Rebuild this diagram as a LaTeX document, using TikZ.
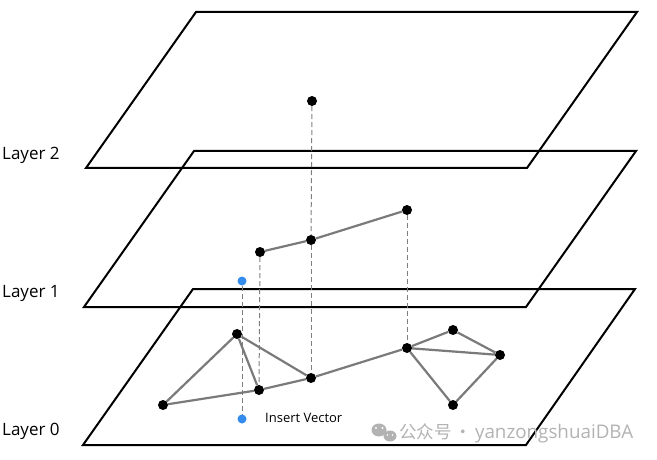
\documentclass[tikz,border=0pt]{standalone}
\usepackage{fontspec}
\setmainfont{Open Sans}
\newfontfamily\cjk{Noto Sans CJK SC}
\usetikzlibrary{backgrounds}
\begin{document}
\begin{tikzpicture}[x=1pt,y=-1pt,
  plane/.style={draw=black,line width=2pt,line join=miter},
  vtx/.style={circle,fill=black,inner sep=0pt,minimum size=10pt},
  bluevtx/.style={circle,fill=bluedot,inner sep=0pt,minimum size=9pt},
  edge/.style={draw=black!52,line width=2.2pt},
  proj/.style={draw=gray,line width=1pt,dash pattern=on 5pt off 3pt},
  lbl/.style={font=\fontsize{17}{19}\selectfont,anchor=west,inner sep=0pt},
  wm/.style={text=black!30,inner sep=0pt,anchor=west}]
\definecolor{bluedot}{RGB}{52,140,236}
\useasboundingbox (0,0) rectangle (657,460);
% labels
\node[lbl] (l2) at (2,155) {Layer 2};
\node[lbl] (l1) at (2,293) {Layer 1};
\node[lbl] (l0) at (2,431) {Layer 0};
% nodes
\node[vtx] (top) at (312,101) {};
\node[vtx] (a) at (260,252) {};
\node[vtx] (b) at (311,240) {};
\node[vtx] (c) at (407,210) {};
\node[vtx] (p) at (237,334) {};
\node[vtx] (q) at (259,390) {};
\node[vtx] (r) at (311,378) {};
\node[vtx] (s) at (163,405) {};
\node[vtx] (t) at (407,348) {};
\node[vtx] (u) at (453,330) {};
\node[vtx] (v) at (500,355) {};
\node[vtx] (w) at (453,405) {};
\node[bluevtx] (i1) at (242,281) {};
\node[bluevtx] (i0) at (242,419) {};
\node[anchor=west,inner sep=0pt,font=\fontsize{13}{15}\selectfont] (iv) at (265,418) {Insert Vector};
\begin{pgfonlayer}{background}
% planes
\draw[plane] (86,168) -- (196,12) -- (637,12) -- (527,168) -- cycle;
\draw[plane] (84,307) -- (194,151) -- (636,151) -- (526,307) -- cycle;
\draw[plane] (83,445) -- (193,289) -- (635,289) -- (526,445) -- cycle;
% projections
\draw[proj] (top) -- (b);
\draw[proj] (b) -- (r);
\draw[proj] (a) -- (q);
\draw[proj] (c) -- (t);
\draw[proj] (i1) -- (i0);
% edges
\draw[edge] (a) -- (b) -- (c);
\draw[edge] (s) -- (p) -- (q) -- (s);
\draw[edge] (p) -- (r);
\draw[edge] (q) -- (r) -- (t);
\draw[edge] (t) -- (u) -- (v) -- (t);
\draw[edge] (t) -- (w) -- (v);
\end{pgfonlayer}
% watermark
\fill[black!30] (379,430) ellipse (7.5pt and 6.5pt);
\fill[black!30] (390,436) ellipse (6.5pt and 5.5pt);
\fill[white] (376,428) circle (1.1pt) (382.5,428) circle (1.1pt);
\fill[white] (387.5,435) circle (0.9pt) (392.5,435) circle (0.9pt);
\node[wm] (wmt) at (399,433) {\fontsize{17.5}{19}\selectfont{\cjk 公众号}\,{\cjk ·}\,\fontsize{18.8}{19}\selectfont yanzongshuaiDBA};
\end{tikzpicture}
\end{document}
